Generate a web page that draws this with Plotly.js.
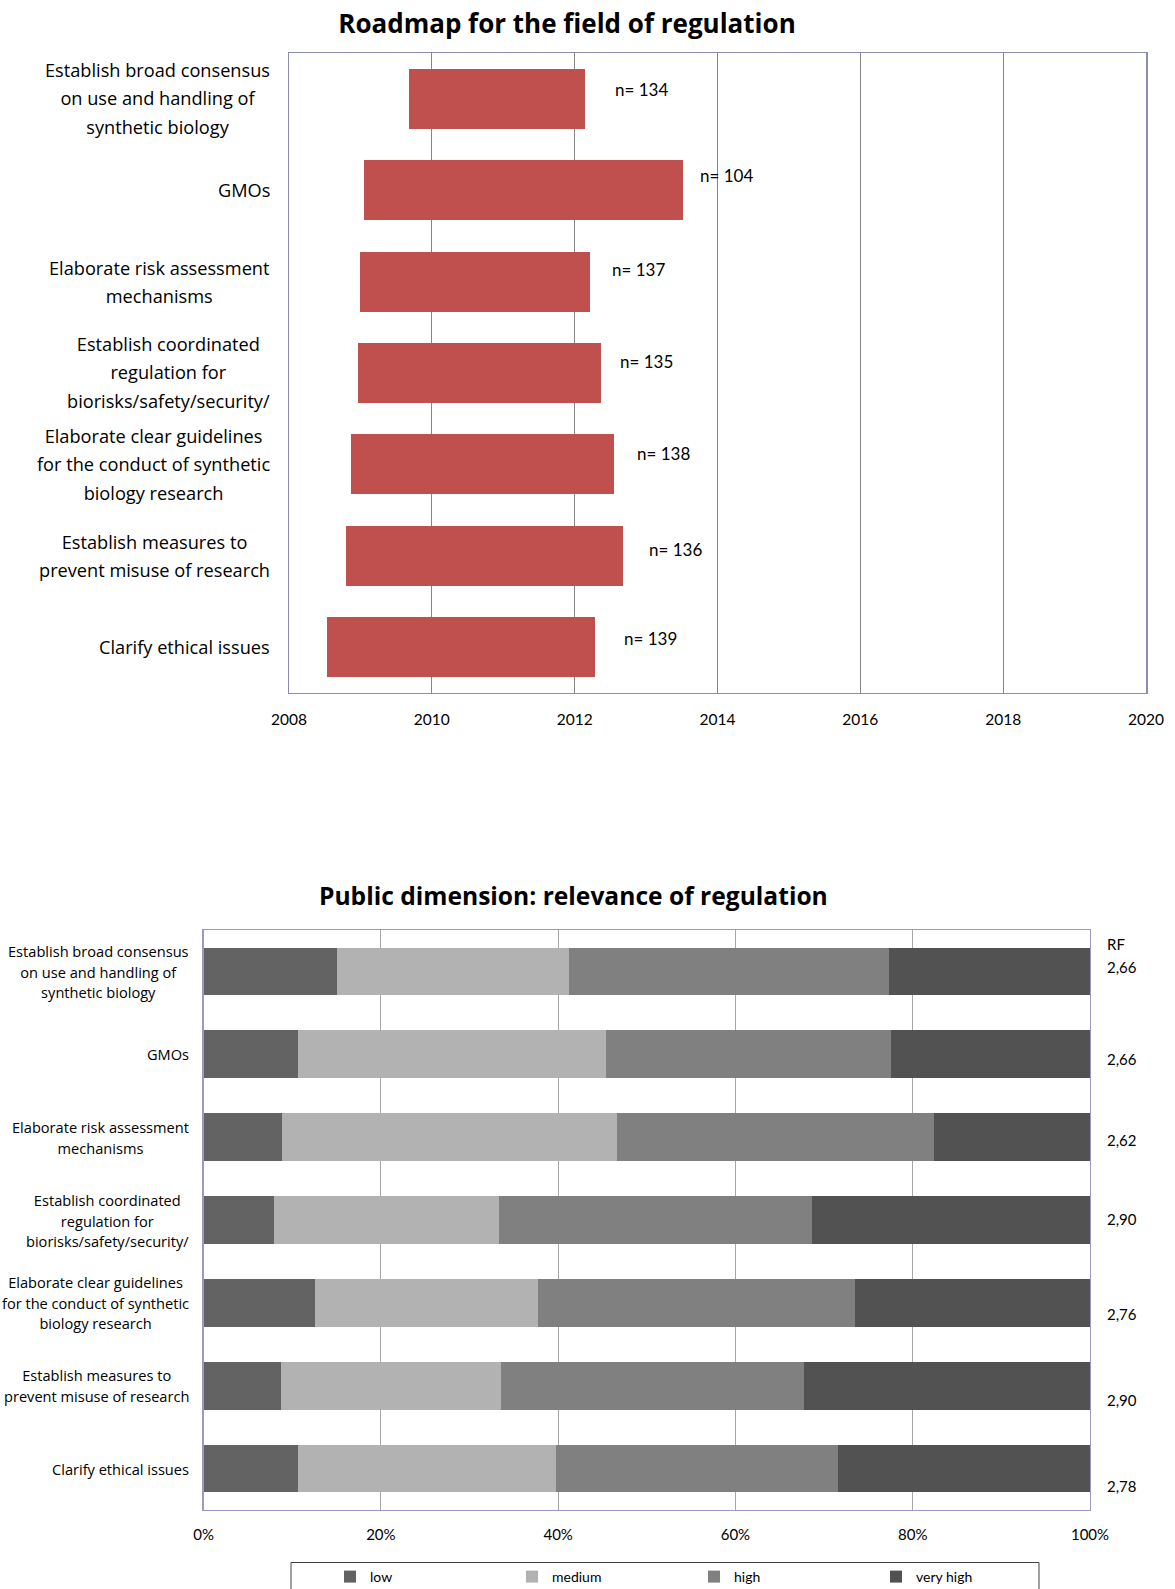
<!DOCTYPE html>
<html>
<head>
<meta charset="utf-8">
<script src="https://cdn.plot.ly/plotly-3.0.1.min.js"></script>
<style>
  html, body { margin: 0; padding: 0; background: #ffffff; }
  #chart { width: 1175px; height: 1589px; }
</style>
</head>
<body>
<div id="chart"></div>
<script>
// ---------- data ----------
const categories = [
  'Establish broad consensus<br>on use and handling of<br>synthetic biology',
  'GMOs',
  'Elaborate risk assessment<br>mechanisms',
  'Establish coordinated<br>regulation for<br>biorisks/safety/security/',
  'Elaborate clear guidelines<br>for the conduct of synthetic<br>biology research',
  'Establish measures to<br>prevent misuse of research',
  'Clarify ethical issues'
];
// Roadmap (top chart): start and end years of each bar, sample size
const startYear = [2009.68, 2009.05, 2009.00, 2008.97, 2008.87, 2008.80, 2008.53];
const endYear   = [2012.15, 2013.52, 2012.22, 2012.37, 2012.55, 2012.68, 2012.29];
const nValues   = [134, 104, 137, 135, 138, 136, 139];

// Relevance (bottom chart): shares in percent
const lowPct      = [15.1, 10.7,  8.8,  7.9, 12.6,  8.7, 10.7];
const mediumPct   = [26.1, 34.7, 37.8, 25.4, 25.1, 24.8, 29.1];
const highPct     = [36.1, 32.2, 35.8, 35.3, 35.8, 34.2, 31.8];
const veryHighPct = [22.7, 22.4, 17.6, 31.4, 26.5, 32.3, 28.4];
const rfValues    = ['2,66', '2,66', '2,62', '2,90', '2,76', '2,90', '2,78'];
const yearTicks   = [2008, 2010, 2012, 2014, 2016, 2018, 2020];
const pctTicks    = [0, 20, 40, 60, 80, 100];

// ---------- style / layout helpers ----------
const W = 1175, H = 1589;
const px = v => v / W;
const py = v => 1 - v / H;
const NUMFONT = 'Lato, "Open Sans", "DejaVu Sans", sans-serif';
const TXTFONT = '"Open Sans", Lato, "DejaVu Sans", sans-serif';

// label offsets (pixels) for the n= labels and RF labels
const nDx = [28, 15, 20, 17, 21, 24, 27];
const nDy = [9, 15, 12, 11, 11, 6, 9];
const rfDy = [4, -5, -3, 1, -11, -14, -17];

function wrapLines(label, size) {
  return label.split('<br>').map(l => '<span style="font-size:' + size + 'px">' + l + '</span>').join('<br>');
}

const traces = [];
traces.push({
  type: 'bar', orientation: 'h',
  y: categories,
  base: startYear,
  x: endYear.map((e, i) => e - startYear[i]),
  width: 0.655,
  marker: { color: '#C0504D', line: { width: 0 } },
  xaxis: 'x', yaxis: 'y',
  showlegend: false, hoverinfo: 'none'
});
const seriesDefs = [
  ['low', lowPct, '#636363'],
  ['medium', mediumPct, '#B2B2B2'],
  ['high', highPct, '#808080'],
  ['very high', veryHighPct, '#525252']
];
seriesDefs.forEach(([name, vals, col]) => {
  traces.push({
    type: 'bar', orientation: 'h', name: name,
    y: categories, x: vals, width: 0.576,
    marker: { color: col, line: { width: 0 } },
    xaxis: 'x2', yaxis: 'y2', hoverinfo: 'none'
  });
});

const annotations = [];
// top chart category labels
categories.forEach(c => {
  annotations.push({
    xref: 'paper', yref: 'y', x: px(272), y: c, xanchor: 'right', yanchor: 'middle',
    text: wrapLines(c, 18.2), align: 'center', showarrow: false,
    font: { family: TXTFONT, size: 21.8, color: '#000' }
  });
});
// n labels
nValues.forEach((n, i) => {
  annotations.push({
    xref: 'x', yref: 'y', x: endYear[i], y: categories[i], xanchor: 'left', yanchor: 'middle',
    xshift: nDx[i], yshift: nDy[i],
    text: 'n= ' + n, showarrow: false,
    font: { family: NUMFONT, size: 17, color: '#000' }
  });
});
// bottom chart category labels
categories.forEach(c => {
  annotations.push({
    xref: 'paper', yref: 'y2', x: px(191), y: c, xanchor: 'right', yanchor: 'middle',
    text: wrapLines(c, 14.6), align: 'center', showarrow: false,
    font: { family: TXTFONT, size: 15.9, color: '#000' }
  });
});
// RF labels
annotations.push({
  xref: 'paper', yref: 'paper', x: px(1105), y: py(944), xanchor: 'left', yanchor: 'middle',
  text: 'RF', showarrow: false, font: { family: NUMFONT, size: 15, color: '#000' }
});
rfValues.forEach((r, i) => {
  annotations.push({
    xref: 'paper', yref: 'y2', x: px(1105), y: categories[i], xanchor: 'left', yanchor: 'middle',
    yshift: rfDy[i], text: r, showarrow: false,
    font: { family: NUMFONT, size: 15, color: '#000' }
  });
});
// bottom title
annotations.push({
  xref: 'paper', yref: 'paper', x: px(573), y: py(895), xanchor: 'center', yanchor: 'middle',
  text: '<b>Public dimension: relevance of regulation</b>', showarrow: false,
  font: { family: TXTFONT, size: 24.6, color: '#000' }
});

const layout = {
  width: W, height: H,
  margin: { l: 0, r: 0, t: 0, b: 0, autoexpand: false },
  paper_bgcolor: '#ffffff', plot_bgcolor: '#ffffff',
  barmode: 'stack',
  font: { family: NUMFONT, color: '#000' },
  title: {
    text: '<b>Roadmap for the field of regulation</b>',
    x: px(567), xanchor: 'center', xref: 'paper',
    y: py(24), yanchor: 'middle', yref: 'paper',
    font: { family: TXTFONT, size: 26, color: '#000' }
  },
  xaxis: {
    domain: [px(289), px(1146)], anchor: 'y',
    range: [2008, 2020], tickmode: 'array', tickvals: yearTicks, ticktext: yearTicks.map(String),
    showgrid: true, gridcolor: '#868686', gridwidth: 1, zeroline: false,
    showline: true, mirror: true, linecolor: '#8c8cae', linewidth: 1.5,
    ticks: '', ticklabelstandoff: 12, tickfont: { family: NUMFONT, size: 15.5, color: '#000' }
  },
  yaxis: {
    domain: [py(692.7), py(53.3)], anchor: 'x',
    type: 'category', autorange: 'reversed', showticklabels: false,
    showgrid: false, zeroline: false,
    showline: true, mirror: true, linecolor: '#8c8cae', linewidth: 1.5, ticks: ''
  },
  xaxis2: {
    domain: [px(203.6), px(1090)], anchor: 'y2',
    range: [0, 100], tickmode: 'array', tickvals: pctTicks, ticktext: pctTicks.map(v => v + '%'),
    showgrid: true, gridcolor: '#a6a6a6', gridwidth: 1, zeroline: false,
    showline: true, mirror: true, linecolor: '#9a9ac2', linewidth: 1.2,
    ticks: '', ticklabelstandoff: 11, tickfont: { family: NUMFONT, size: 15, color: '#000' }
  },
  yaxis2: {
    domain: [py(1510), py(930)], anchor: 'x2',
    type: 'category', autorange: 'reversed', showticklabels: false,
    showgrid: false, zeroline: false,
    showline: true, mirror: true, linecolor: '#9a9ac2', linewidth: 1.2, ticks: ''
  },
  showlegend: true,
  legend: {
    orientation: 'h', x: px(330), xanchor: 'left', y: py(1561), yanchor: 'top',
    borderwidth: 0, bgcolor: 'rgba(0,0,0,0)',
    font: { family: NUMFONT, size: 14, color: '#000' },
    entrywidth: 137, entrywidthmode: 'pixels', traceorder: 'normal'
  },
  shapes: [{
    type: 'rect', xref: 'paper', yref: 'paper',
    x0: px(291), x1: px(1039), y0: py(1562.5), y1: py(1600),
    line: { color: '#404040', width: 1 }, fillcolor: 'rgba(0,0,0,0)', layer: 'below'
  }],
  annotations: annotations
};

Plotly.newPlot('chart', traces, layout, { displayModeBar: false, staticPlot: true });
</script>
</body>
</html>
